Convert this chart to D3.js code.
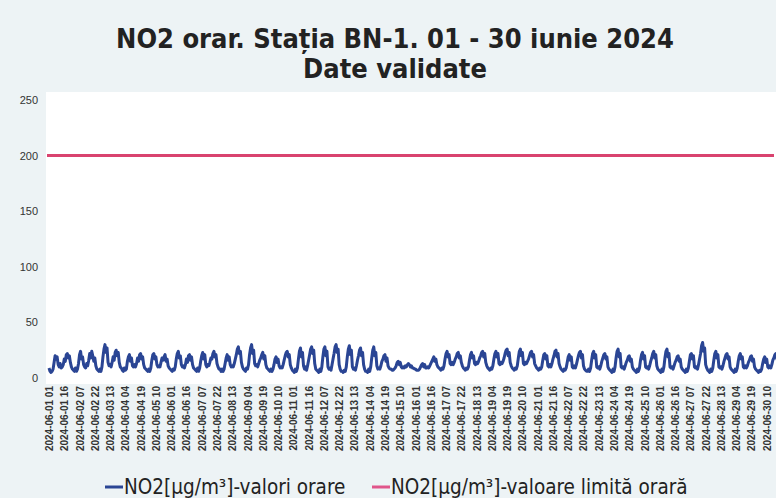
<!DOCTYPE html>
<html>
<head>
    <meta charset="utf-8" />
    <title>NO2 orar BN-1</title>
    <script src="https://cdn.jsdelivr.net/npm/d3@7"></script>
    <style>
        body { margin: 0; background-color: #edf3f5; }
        svg { display: block; }
        .title { font-family: "DejaVu Sans Condensed", "DejaVu Sans", sans-serif; font-weight: bold; fill: #222; }
        .yaxis text { font-family: "Liberation Sans", Arial, sans-serif; font-size: 11px; fill: #333; }
        .xaxis text { font-family: "Liberation Sans Narrow", "Liberation Sans", Arial, sans-serif; font-size: 10px; font-weight: bold; fill: #333; }
        .legend text { font-family: "DejaVu Sans Condensed", "DejaVu Sans", sans-serif; font-size: 20.5px; fill: #222; }
    </style>
</head>
<body>
    <svg width="776" height="498"></svg>

    <script>
        // valori orare NO2, cate o lista pe zi (ore 01..24)
        var no2Days = [
            [9,6,5,6,8,14,20,17,19,12,10,13,9,10,12,17,15,21,22,18,20,14,10,8],
            [7,6,9,6,8,13,21,24,17,19,12,10,9,13,11,16,22,18,24,20,15,18,11,8],
            [7,6,8,6,10,19,26,30,23,27,14,11,12,10,14,19,16,23,25,20,23,14,10,9],
            [7,6,9,7,8,15,19,21,15,18,11,10,12,10,13,18,15,21,22,17,19,12,9,8],
            [7,6,8,6,9,16,21,22,17,19,12,10,11,10,14,18,16,19,21,15,17,11,9,8],
            [7,6,8,7,10,17,22,24,18,20,12,10,11,9,12,17,14,20,21,16,19,12,9,8],
            [7,6,9,6,9,15,20,23,17,21,12,10,12,11,14,18,17,22,24,19,21,13,10,8],
            [8,6,8,6,8,13,18,21,16,19,12,10,11,10,13,17,21,26,28,22,24,14,10,8],
            [7,6,9,8,12,21,27,30,22,25,13,11,12,10,13,16,18,21,23,17,20,12,9,8],
            [7,6,8,6,8,12,17,19,14,17,11,9,10,9,12,16,20,23,24,19,21,12,9,7],
            [6,5,8,6,9,17,24,27,19,23,11,8,10,7,11,16,21,26,28,22,25,13,8,7],
            [6,5,8,6,10,19,26,28,20,24,10,8,9,7,12,17,22,28,30,23,26,12,8,6],
            [6,5,7,6,10,19,26,29,21,25,10,8,9,7,11,16,20,25,27,20,23,12,8,6],
            [6,5,8,6,10,18,25,28,20,23,11,8,9,8,11,15,17,20,21,15,18,11,9,8],
            [8,7,7,8,9,11,14,15,12,14,10,9,10,9,11,10,12,13,12,10,11,9,9,8],
            [8,7,7,7,8,10,12,13,10,12,9,9,10,9,11,13,15,17,19,15,17,12,10,9],
            [8,7,9,8,11,17,22,24,19,21,13,12,14,12,14,17,19,22,23,18,20,14,11,9],
            [8,7,9,8,10,16,21,23,18,20,13,12,14,13,15,18,20,23,24,19,22,14,11,9],
            [8,7,9,8,11,17,22,24,19,22,13,12,14,13,15,18,22,25,26,20,23,14,11,9],
            [8,7,9,8,11,18,24,26,20,23,13,12,14,13,15,17,20,23,24,19,21,13,11,9],
            [8,7,9,8,10,16,21,22,17,20,11,10,12,10,13,17,20,24,25,19,22,13,10,8],
            [7,6,8,7,9,14,19,21,16,19,10,9,11,9,12,16,20,23,24,18,21,11,8,7],
            [6,6,8,6,9,16,22,24,18,21,10,9,10,8,11,15,18,21,22,17,19,10,8,7],
            [6,5,8,6,10,18,24,26,19,22,10,9,10,8,11,14,16,19,20,15,17,10,8,7],
            [6,5,8,6,9,16,21,23,17,20,10,9,10,8,11,15,18,22,24,18,21,11,8,7],
            [6,5,8,6,10,18,24,26,19,22,10,9,10,8,11,14,16,19,20,15,17,10,8,7],
            [6,5,8,6,9,15,21,22,17,20,10,9,10,8,12,17,22,29,32,24,27,12,9,7],
            [6,5,8,6,9,16,22,24,18,21,10,9,10,8,11,15,18,21,22,17,19,10,8,7],
            [6,5,8,6,9,15,20,22,17,19,10,9,11,9,11,14,16,19,20,15,17,10,8,7],
            [6,5,7,6,8,13,17,19,14,17,10,9,11,9,12,16,18,21,22,17,20,14,16,20]
        ];
        var limitValue = 200;
        var yTicks = [0, 50, 100, 150, 200, 250];
        var xTickLabels = [
            "2024-06-01 01","2024-06-01 16","2024-06-02 07","2024-06-02 22","2024-06-03 13","2024-06-04 04",
            "2024-06-04 19","2024-06-05 10","2024-06-06 01","2024-06-06 16","2024-06-07 07","2024-06-07 22",
            "2024-06-08 13","2024-06-09 04","2024-06-09 19","2024-06-10 10","2024-06-11 01","2024-06-11 16",
            "2024-06-12 07","2024-06-12 22","2024-06-13 13","2024-06-14 04","2024-06-14 19","2024-06-15 10",
            "2024-06-16 01","2024-06-16 16","2024-06-17 07","2024-06-17 22","2024-06-18 13","2024-06-19 04",
            "2024-06-19 19","2024-06-20 10","2024-06-21 01","2024-06-21 16","2024-06-22 07","2024-06-22 22",
            "2024-06-23 13","2024-06-24 04","2024-06-24 19","2024-06-25 10","2024-06-26 01","2024-06-26 16",
            "2024-06-27 07","2024-06-27 22","2024-06-28 13","2024-06-29 04","2024-06-29 19","2024-06-30 10"
        ];
        var tickStep = 15;
        var titleLines = ["NO2 orar. Stația BN-1. 01 - 30 iunie 2024", "Date validate"];
        var legendLabels = ["NO2[µg/m³]-valori orare", "NO2[µg/m³]-valoare limită orară"];

        var hourly = [].concat.apply([], no2Days);

        var svg = d3.select("svg");

        var x = d3.scaleLinear().domain([0, hourly.length - 1]).range([49, 781]);
        var y = d3.scaleLinear().domain([0, 250]).range([378, 100]);

        // zona alba a graficului
        svg.append("rect").attr("x", 46).attr("y", 92).attr("width", 730).attr("height", 292).attr("fill", "#ffffff");

        // titlu
        svg.selectAll(".title").data(titleLines).enter().append("text")
            .attr("class", "title")
            .attr("x", 395)
            .attr("y", function (d, i) { return 48 + i * 30; })
            .attr("text-anchor", "middle")
            .style("font-size", "27px")
            .text(function (d) { return d; });

        // axa Y
        var yAxis = svg.append("g").attr("class", "yaxis").attr("transform", "translate(38,0)")
            .call(d3.axisLeft(y).tickValues(yTicks).tickSize(0).tickPadding(0));
        yAxis.select(".domain").remove();

        // axa X
        var xAxis = svg.append("g").attr("class", "xaxis").attr("transform", "translate(0,384)")
            .call(d3.axisBottom(x)
                .tickValues(xTickLabels.map(function (d, i) { return i * tickStep; }))
                .tickFormat(function (d, i) { return xTickLabels[i]; })
                .tickSize(0));
        xAxis.select(".domain").remove();
        xAxis.selectAll("text")
            .attr("transform", "rotate(-90)")
            .attr("text-anchor", "end")
            .attr("x", -2)
            .attr("y", 0)
            .attr("dy", "0.35em");

        // valoare limita
        svg.append("line")
            .attr("x1", x(0) - 2).attr("x2", 774)
            .attr("y1", y(limitValue)).attr("y2", y(limitValue))
            .attr("stroke", "#d9436f").attr("stroke-width", 3);

        // valori orare
        var line = d3.line()
            .x(function (d, i) { return x(i); })
            .y(function (d) { return y(d); });

        svg.append("path")
            .datum(hourly)
            .attr("d", line)
            .attr("fill", "none")
            .attr("stroke", "#2a4594")
            .attr("stroke-width", 3)
            .attr("stroke-linejoin", "round");

        // legenda
        var legend = svg.append("g").attr("class", "legend");
        var legendItems = [
            { label: legendLabels[0], color: "#2a4594", x: 105 },
            { label: legendLabels[1], color: "#e0558a", x: 372 }
        ];
        legendItems.forEach(function (it) {
            legend.append("line").attr("x1", it.x).attr("x2", it.x + 18)
                .attr("y1", 487).attr("y2", 487)
                .attr("stroke", it.color).attr("stroke-width", 3);
            legend.append("text").attr("x", it.x + 19).attr("y", 494).text(it.label);
        });
    </script>
</body>
</html>
